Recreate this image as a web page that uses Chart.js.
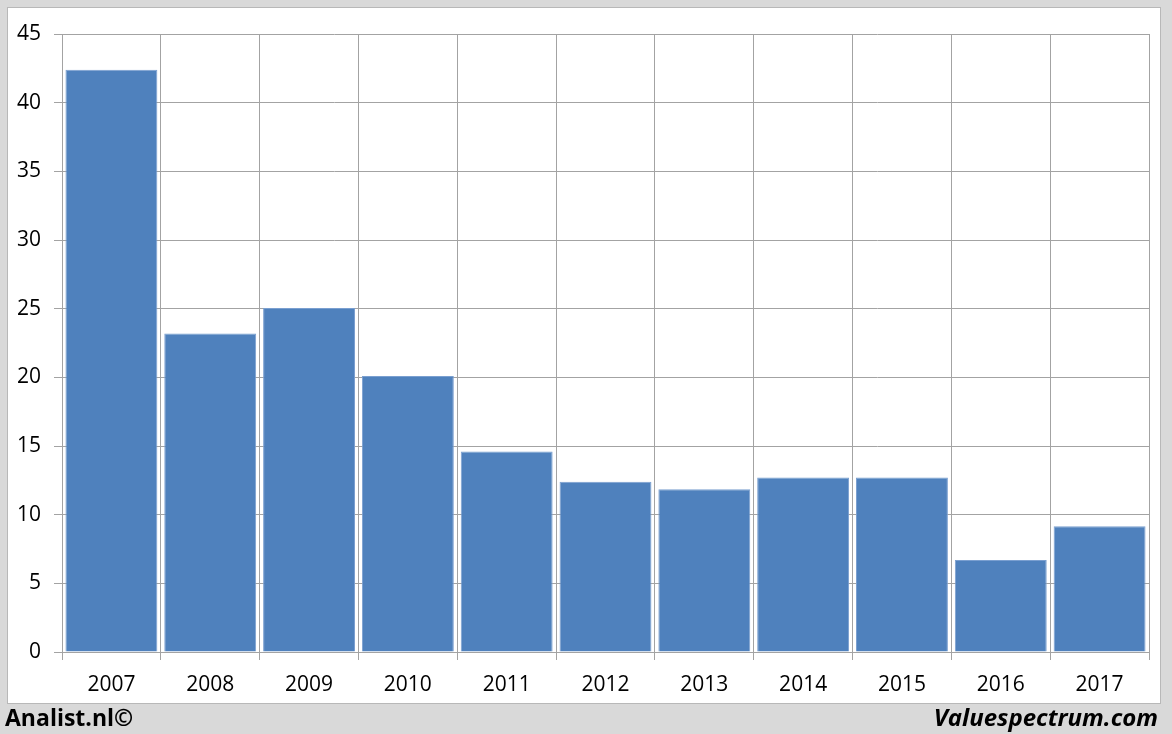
<!DOCTYPE html>
<html>
<head>
<meta charset="utf-8">
<script src="https://cdn.jsdelivr.net/npm/chart.js@4/dist/chart.umd.min.js"></script>
<style>
  html, body { margin: 0; padding: 0; background: #d9d9d9; }
  #wrap { position: relative; width: 1172px; height: 734px; overflow: hidden; }
  #panel { position: absolute; left: 7px; top: 7px; width: 1152px; height: 695px;
           background: #fff; border: 1px solid #b8b8b8; }
  #myChart { position: absolute; left: 0; top: 0; }
  .foot { position: absolute; top: 701px; font-family: "Open Sans", sans-serif;
          font-weight: bold; font-size: 23px; color: #000; }
  #left { left: 5px; }
  #right { right: 14px; font-style: italic; font-size: 24px; top: 700px; }
</style>
</head>
<body>
<div id="wrap">
  <div id="panel"></div>
  <canvas id="myChart" width="1172" height="734"></canvas>
  <div class="foot" id="left">Analist.nl©</div>
  <div class="foot" id="right">Valuespectrum.com</div>
</div>
<script>
// chart values
var years = ["2007", "2008", "2009", "2010", "2011", "2012", "2013", "2014", "2015", "2016", "2017"];
var values = [42.4, 23.2, 25.05, 20.1, 14.6, 12.4, 11.85, 12.7, 12.7, 6.7, 9.15];
var yTicks = [0, 5, 10, 15, 20, 25, 30, 35, 40, 45];

var gridColor = "#a3a3a3";

var ctx = document.getElementById("myChart").getContext("2d");
var myChart = new Chart(ctx, {
  type: "bar",
  data: {
    labels: years,
    datasets: [
      {
        data: values,
        backgroundColor: "#4f81bd",
        borderColor: "#7a9fd0",
        borderWidth: 1,
        barPercentage: 0.93,
        categoryPercentage: 1.0
      }
    ]
  },
  options: {
    responsive: false,
    animation: false,
    layout: {
      padding: { left: 0, right: 23, top: 34, bottom: 0 }
    },
    plugins: {
      legend: { display: false },
      tooltip: { enabled: false }
    },
    scales: {
      x: {
        grid: {
          color: gridColor,
          offset: true,
          tickLength: 8,
          drawTicks: true
        },
        border: { color: gridColor },
        ticks: {
          color: "#000",
          padding: 12,
          font: { family: "Open Sans", size: 21 }
        },
        afterFit: function (axis) { axis.height = 82; }
      },
      y: {
        min: 0,
        max: 45,
        afterBuildTicks: function (axis) {
          axis.ticks = yTicks.map(function (v) { return { value: v }; });
        },
        grid: {
          color: gridColor,
          tickLength: 8
        },
        border: { color: gridColor },
        ticks: {
          color: "#000",
          padding: 13,
          font: { family: "Open Sans", size: 21 }
        },
        afterFit: function (axis) { axis.width = 62; }
      }
    }
  },
  plugins: [{
    // right edge line of the plot area
    id: "rightEdge",
    afterDraw: function (chart) {
      var a = chart.chartArea;
      var c = chart.ctx;
      c.save();
      c.strokeStyle = gridColor;
      c.lineWidth = 1;
      c.beginPath();
      c.moveTo(Math.round(a.right) + 0.5, a.top);
      c.lineTo(Math.round(a.right) + 0.5, a.bottom);
      c.stroke();
      c.restore();
    }
  }]
});
</script>
</body>
</html>
